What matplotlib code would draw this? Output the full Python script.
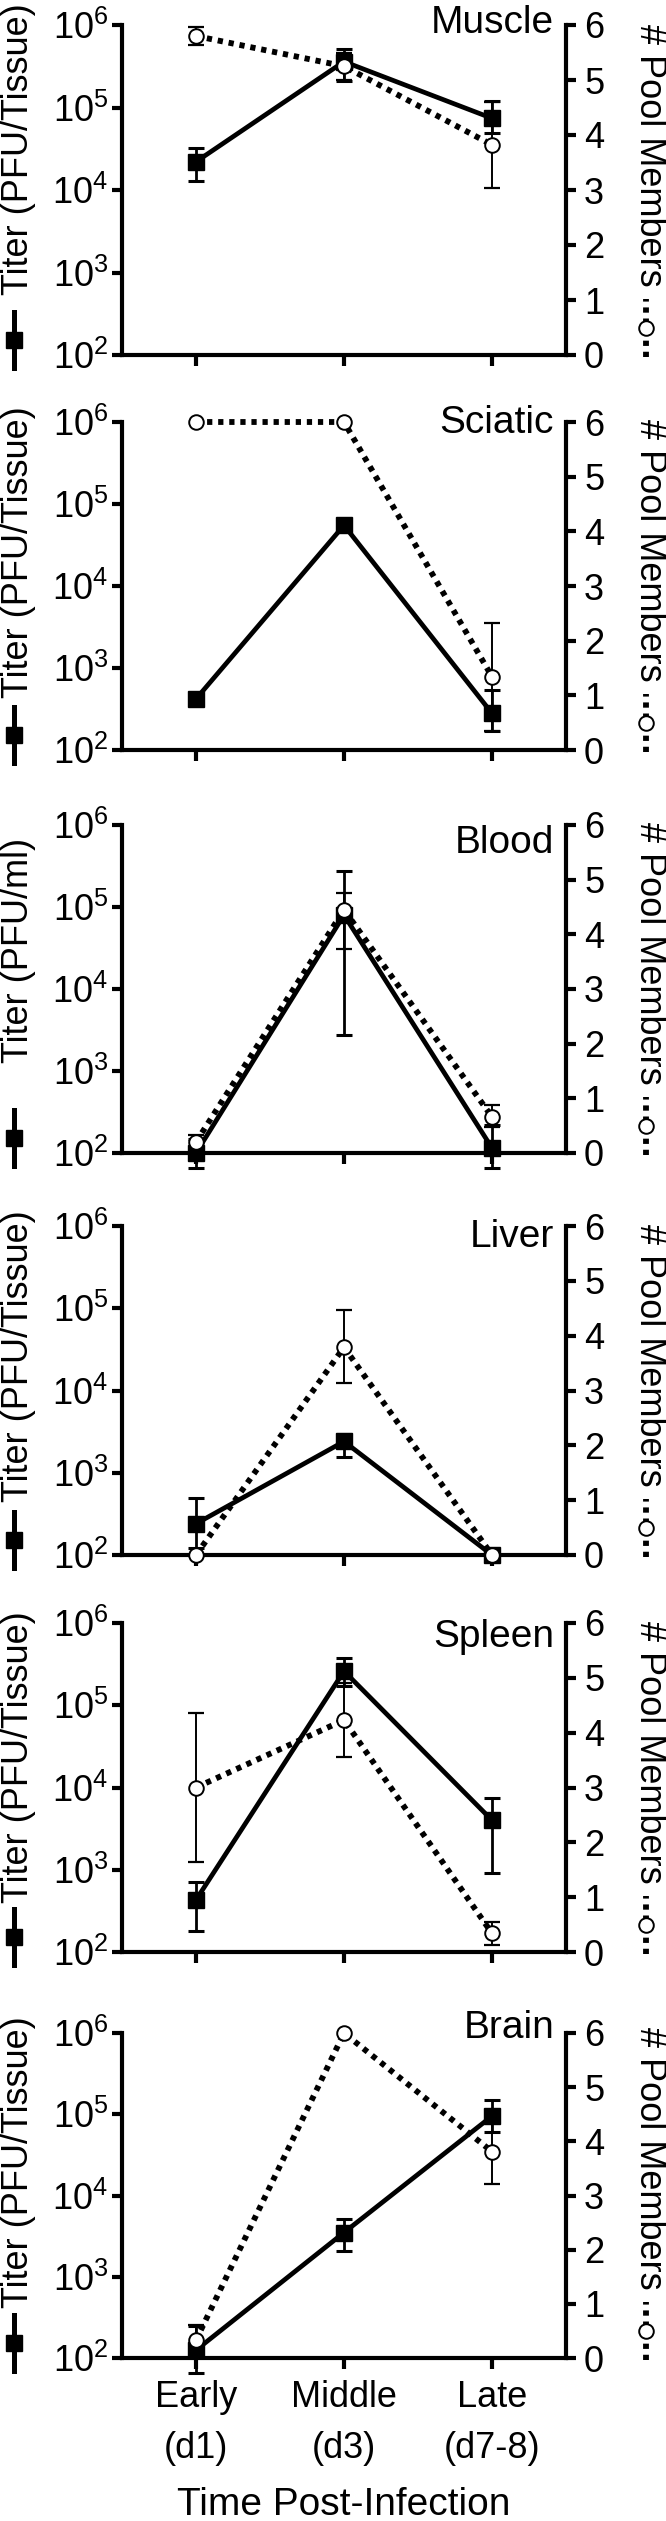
import numpy as np
import matplotlib
matplotlib.use('Agg')
import matplotlib.pyplot as plt
from matplotlib.lines import Line2D
from matplotlib.ticker import NullLocator

plt.rcParams['font.family'] = ['Liberation Sans', 'DejaVu Sans']
plt.rcParams['mathtext.fontset'] = 'custom'
plt.rcParams['mathtext.rm'] = 'Liberation Sans'

## Data

tissues = ['Muscle', 'Sciatic', 'Blood', 'Liver', 'Spleen', 'Brain']
titer_units = ['Titer (PFU/Tissue)', 'Titer (PFU/Tissue)', 'Titer (PFU/ml)',
               'Titer (PFU/Tissue)', 'Titer (PFU/Tissue)', 'Titer (PFU/Tissue)']
timepoints = ['Early\n(d1)', 'Middle\n(d3)', 'Late\n(d7-8)']
nan = np.nan

# titer, PFU -- early, middle, late
titer = [[2.2e4, 3.6e5, 7.4e4],
         [4.2e2, 5.5e4, 2.8e2],
         [1.0e2, 8.0e4, 1.15e2],
         [2.4e2, 2.4e3, 1.0e2],
         [4.3e2, 2.6e5, 4.0e3],
         [1.25e2, 3.5e3, 9.5e4]]
titer_lo = [[1.3e4, 2.1e5, 4.9e4],
            [nan, nan, 1.7e2],
            [6.5e1, 2.75e3, 6.5e1],
            [1.2e2, 1.55e3, nan],
            [1.8e2, 1.7e5, 9.1e2],
            [6.5e1, 2.05e3, 6.0e4]]
titer_hi = [[3.2e4, 5.1e5, 1.2e5],
            [nan, nan, 5.4e2],
            [1.5e2, 2.75e5, 2.2e2],
            [4.9e2, 2.95e3, nan],
            [7.1e2, 3.8e5, 7.4e3],
            [2.45e2, 5.1e3, 1.5e5]]

# number of pool members detected -- early, middle, late
pool = [[5.8, 5.25, 3.82],
        [6.0, 6.0, 1.34],
        [0.2, 4.45, 0.66],
        [0.0, 3.79, 0.0],
        [3.0, 4.23, 0.34],
        [0.33, 6.0, 3.81]]
pool_lo = [[5.63, 5.0, 3.03],
           [nan, nan, 0.35],
           [0.08, 3.74, 0.48],
           [nan, 3.13, nan],
           [1.65, 3.56, 0.13],
           [0.05, nan, 3.22]]
pool_hi = [[5.97, 5.5, 4.6],
           [nan, nan, 2.33],
           [0.33, 4.76, 0.88],
           [nan, 4.47, nan],
           [4.35, 4.9, 0.55],
           [0.61, nan, 4.4]]

## Layout (pixels, from top of the 666 x 2521 image)

W, H = 666, 2521
ax_left, ax_width = 122, 444
ax_tops = [25, 422, 825, 1226, 1623, 2033]
ax_bottoms = [355, 750, 1153, 1555, 1952, 2358]
title_drop = [8, 11, 28, 21, 24, 5]
left_text_up = [60, 52, 90, 53, 49, 50]

dot_ls = (0, (0.9, 1.0))

fig = plt.figure(figsize=(W / 100, H / 100), dpi=100)

x = np.arange(len(timepoints))

for i, name in enumerate(tissues):
    top, bot = ax_tops[i], ax_bottoms[i]
    hpx = bot - top
    ax = fig.add_axes([ax_left / W, 1 - bot / H, ax_width / W, hpx / H])
    ax.set_yscale('log')
    ax.set_ylim(1e2, 1e6)
    ax.set_xlim(-0.5, 2.5)
    ax.patch.set_visible(False)

    t = np.array(titer[i])
    tlo = t - np.array(titer_lo[i])
    thi = np.array(titer_hi[i]) - t
    eb = ax.errorbar(x, t, yerr=[tlo, thi], fmt='none', ecolor='black',
                     elinewidth=2, capsize=6, capthick=2.2, zorder=3)
    for art in list(eb.lines[1]) + list(eb.lines[2]):
        art.set_clip_on(False)
    ax.plot(x, t, '-', color='black', lw=3.4, marker='s', ms=12,
            clip_on=False, zorder=4)

    ax2 = ax.twinx()
    ax2.set_ylim(0, 6)
    ax2.set_xlim(-0.5, 2.5)
    p = np.array(pool[i])
    plo = p - np.array(pool_lo[i])
    phi = np.array(pool_hi[i]) - p
    eb2 = ax2.errorbar(x, p, yerr=[plo, phi], fmt='none', ecolor='black',
                       elinewidth=1.4, capsize=6, capthick=1.6, zorder=3)
    for art in list(eb2.lines[1]) + list(eb2.lines[2]):
        art.set_clip_on(False)
    ax2.plot(x, p, color='black', lw=4.2, ls=dot_ls, clip_on=False, zorder=4)
    ax2.plot(x, p, ls='none', marker='o', ms=10.5, mfc='white', mec='black',
             mew=1.4, clip_on=False, zorder=5)

    # spines and ticks
    for s in ['top', 'right']:
        ax.spines[s].set_visible(False)
    for s in ['top', 'left', 'bottom']:
        ax2.spines[s].set_visible(False)
    ax.spines['left'].set_linewidth(3)
    ax.spines['bottom'].set_linewidth(3)
    ax2.spines['right'].set_linewidth(3)

    ax.set_yticks([1e2, 1e3, 1e4, 1e5, 1e6])
    ax.set_yticklabels([r'$\mathdefault{10^{%d}}$' % e for e in range(2, 7)])
    ax.yaxis.set_minor_locator(NullLocator())
    ax.tick_params(axis='y', direction='out', length=7, width=3,
                   labelsize=26, pad=3)
    ax.set_xticks(x)
    ax.tick_params(axis='x', direction='out', length=8, width=3,
                   labelsize=26, pad=8)
    if i == len(tissues) - 1:
        ax.set_xticklabels(timepoints, linespacing=1.6)
    else:
        ax.set_xticklabels([])

    ax2.set_yticks(range(7))
    ax2.tick_params(axis='y', direction='out', length=7, width=3,
                    labelsize=26, pad=6)

    # panel name
    ax.text(0.973, 1 - title_drop[i] / hpx, name, transform=ax.transAxes,
            ha='right', va='baseline', fontsize=28)

    # left axis label with line/square key
    ax.text((19 - ax_left) / ax_width, left_text_up[i] / hpx, titer_units[i],
            transform=ax.transAxes, rotation=90, ha='center', va='bottom',
            fontsize=26)
    gx = (14 - ax_left) / ax_width
    gy = 15 / hpx
    ax.add_artist(Line2D([gx, gx], [gy - 28 / hpx, gy + 28 / hpx],
                         transform=ax.transAxes, color='black', lw=3.6,
                         clip_on=False))
    ax.add_artist(Line2D([gx], [gy], transform=ax.transAxes, color='black',
                         marker='s', ms=12, clip_on=False))

    # right axis label with dotted/circle key
    ax2.text((650 - ax_left) / ax_width, 68 / hpx, '# Pool Members',
             transform=ax2.transAxes, rotation=-90, ha='center', va='bottom',
             fontsize=26)
    rx = (646 - ax_left) / ax_width
    ry = 27 / hpx
    ax2.add_artist(Line2D([rx, rx], [ry - 29 / hpx, ry + 29 / hpx],
                          transform=ax2.transAxes, color='black', lw=4.2,
                          ls=dot_ls, clip_on=False))
    ax2.add_artist(Line2D([rx], [ry], transform=ax2.transAxes, marker='o',
                          ms=10.5, mfc='white', mec='black', mew=1.4,
                          clip_on=False))

fig.text((ax_left + ax_width / 2) / W, 6 / H, 'Time Post-Infection',
         ha='center', va='baseline', fontsize=28)

fig.savefig('out.png', dpi=100)
